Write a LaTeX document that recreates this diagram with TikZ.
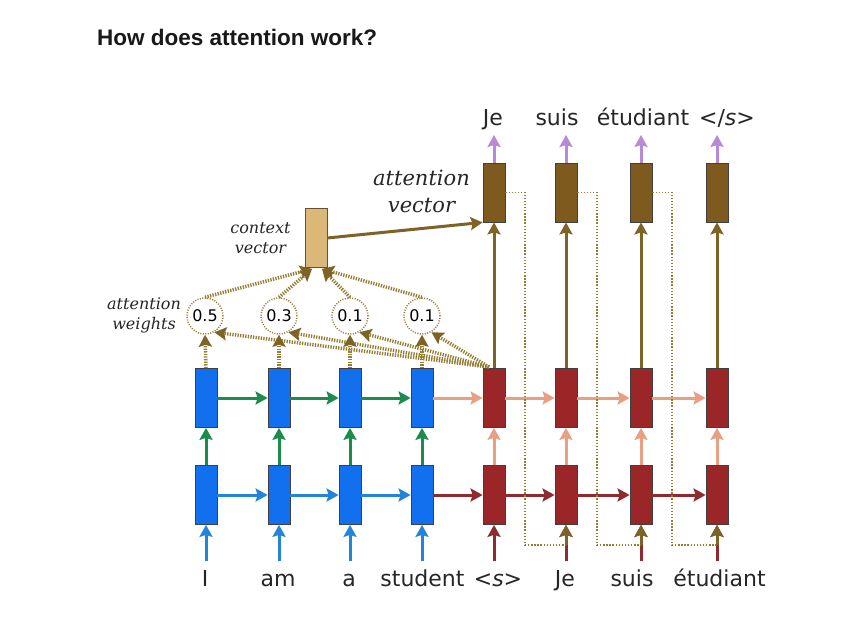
\documentclass[tikz,border=0pt]{standalone}
\usepackage{fontspec}
\setmainfont{DejaVu Sans}
\newfontfamily\titlefont{Liberation Sans}
\newfontfamily\serifit{DejaVu Serif}
\usetikzlibrary{arrows.meta,calc}
\definecolor{boxblue}{HTML}{1270EE}
\definecolor{boxred}{HTML}{9A2628}
\definecolor{boxbrown}{HTML}{7F5A1F}
\definecolor{boxtan}{HTML}{DCB878}
\definecolor{tanedge}{HTML}{6B5030}
\definecolor{arrblue}{HTML}{2384D9}
\definecolor{arrgreen}{HTML}{1C8C4C}
\definecolor{arrred}{HTML}{8E2B2E}
\definecolor{arrsalmon}{HTML}{E8A083}
\definecolor{arrbrown}{HTML}{7D6326}
\definecolor{arrpurple}{HTML}{B78AD8}
\definecolor{dotcol}{HTML}{957D33}
\tikzset{
  cell/.style={rectangle, draw=black!75, line width=0.8pt, minimum width=22pt, minimum height=59pt, inner sep=0pt},
  encbox/.style={cell, fill=boxblue},
  decbox/.style={cell, fill=boxred},
  attbox/.style={cell, fill=boxbrown},
  ctxbox/.style={cell, fill=boxtan, draw=tanedge},
  wcircle/.style={circle, draw=dotcol, line width=1.5pt, dash pattern=on 1pt off 1.5pt, minimum size=36pt, inner sep=0pt, font=\fontsize{16}{18}\selectfont},
  arr/.style={line width=3pt, -{Stealth[length=12pt,width=13pt,inset=2pt]}},
  dotarr/.style={draw=dotcol, line width=3.5pt, dash pattern=on 1.3pt off 1.3pt, -{Stealth[length=12pt,width=13pt,inset=2pt,color=arrbrown]}},
  fb/.style={draw=dotcol, line width=1.6pt, dash pattern=on 1.4pt off 1.7pt},
  lab/.style={font=\fontsize{22}{26}\selectfont, text=black!85, inner sep=0pt},
  itlab/.style={font=\serifit\itshape\fontsize{21}{27}\selectfont, text=black!85, align=center, inner sep=0pt},
  smitlab/.style={font=\serifit\itshape\fontsize{16}{20}\selectfont, text=black!85, align=center, inner sep=0pt},
}
\begin{document}
\begin{tikzpicture}[x=1pt,y=-1pt]
\useasboundingbox[fill=white] (0,0) rectangle (857,631);

% title
\node[anchor=base west, inner sep=0pt, font=\titlefont\bfseries\fontsize{22.5}{26}\selectfont, text=black!90] (title) at (97,46) {How does attention work?};

% encoder
\node[encbox] (e1) at (206,495) {};
\node[encbox] (e2) at (279,495) {};
\node[encbox] (e3) at (350,495) {};
\node[encbox] (e4) at (422,495) {};
\node[encbox] (h1) at (206,398) {};
\node[encbox] (h2) at (279,398) {};
\node[encbox] (h3) at (350,398) {};
\node[encbox] (h4) at (422,398) {};
% decoder
\node[decbox] (d1) at (494,495) {};
\node[decbox] (d2) at (566,495) {};
\node[decbox] (d3) at (641,495) {};
\node[decbox] (d4) at (717,495) {};
\node[decbox] (t1) at (494,398) {};
\node[decbox] (t2) at (566,398) {};
\node[decbox] (t3) at (641,398) {};
\node[decbox] (t4) at (717,398) {};
% attention vectors
\node[attbox] (a1) at (494,192.5) {};
\node[attbox] (a2) at (566,192.5) {};
\node[attbox] (a3) at (641,192.5) {};
\node[attbox] (a4) at (717,192.5) {};
% context vector
\node[ctxbox] (c) at (316,238) {};
% weights
\node[wcircle] (w1) at (205,316) {0.5};
\node[wcircle] (w2) at (279,316) {0.3};
\node[wcircle] (w3) at (350,316) {0.1};
\node[wcircle] (w4) at (422,316) {0.1};

% text labels
\node[itlab] (attlab) at (421.5,191) {attention\\vector};
\node[smitlab] (ctxlab) at (260.5,238) {context\\vector};
\node[smitlab] (wlab) at (144,315) {attention\\weights};

% input labels
\node[lab, anchor=base] (lI) at (205,586) {I};
\node[lab, anchor=base] (lam) at (278,586) {am};
\node[lab, anchor=base] (la) at (349,586) {a};
\node[lab, anchor=base] (lst) at (422.5,586) {student};
\node[lab, anchor=base] (ls) at (498,586) {<{\itshape s}>};
\node[lab, anchor=base] (lJe) at (565,586) {Je};
\node[lab, anchor=base] (lsuis) at (632,586) {suis};
\node[lab, anchor=base] (let) at (719.5,586) {étudiant};
% output labels
\node[lab, anchor=base] (oJe) at (493,126) {Je};
\node[lab, anchor=base] (osuis) at (557,126) {suis};
\node[lab, anchor=base] (oet) at (643,126) {étudiant};
\node[lab, anchor=base] (oend) at (727,126) {</{\itshape s}>};

% input arrow starts
\coordinate (i1) at (206,561);
\coordinate (i2) at (279,561);
\coordinate (i3) at (350,561);
\coordinate (i4) at (422,561);
\coordinate (j1) at (494,561);
\coordinate (j2) at (566,561);
\coordinate (j3) at (641,561);
\coordinate (j4) at (717,561);
% output arrow tips
\coordinate (o1) at (494,135);
\coordinate (o2) at (566,135);
\coordinate (o3) at (641,135);
\coordinate (o4) at (717,135);

% encoder arrows
\foreach \n in {1,2,3,4} {
  \draw[arr, arrblue] (i\n) -- (e\n.south);
  \draw[arr, arrgreen] (e\n.north) -- (h\n.south);
}
\draw[arr, arrblue] (e1.east) -- (e2.west);
\draw[arr, arrblue] (e2.east) -- (e3.west);
\draw[arr, arrblue] (e3.east) -- (e4.west);
\draw[arr, arrgreen] (h1.east) -- (h2.west);
\draw[arr, arrgreen] (h2.east) -- (h3.west);
\draw[arr, arrgreen] (h3.east) -- (h4.west);
% decoder arrows
\draw[arr, arrred] (e4.east) -- (d1.west);
\draw[arr, arrred] (d1.east) -- (d2.west);
\draw[arr, arrred] (d2.east) -- (d3.west);
\draw[arr, arrred] (d3.east) -- (d4.west);
\draw[arr, arrsalmon] (h4.east) -- (t1.west);
\draw[arr, arrsalmon] (t1.east) -- (t2.west);
\draw[arr, arrsalmon] (t2.east) -- (t3.west);
\draw[arr, arrsalmon] (t3.east) -- (t4.west);
\foreach \n in {1,2,3,4} {
  \draw[arr, arrred] (j\n) -- (d\n.south);
  \draw[arr, arrsalmon] (d\n.north) -- (t\n.south);
  \draw[arr, arrbrown] (t\n.north) -- (a\n.south);
  \draw[arr, arrpurple] (a\n.north) -- (o\n);
}

% feedback (input feeding)
\coordinate (k1) at (525,545);
\coordinate (k2) at (597,545);
\coordinate (k3) at (672,545);
\coordinate (f2) at (566,545);
\coordinate (f3) at (641,545);
\coordinate (f4) at (717,545);
\draw[fb] (a1.east) -| (k1) -- (f2);
\draw[fb] (a2.east) -| (k2) -- (f3);
\draw[fb] (a3.east) -| (k3) -- (f4);
\draw[arr, arrbrown] (f2) -- (d2.south);
\draw[arr, arrbrown] (f3) -- (d3.south);
\draw[arr, arrbrown] (f4) -- (d4.south);

% attention scoring
\coordinate (q) at (489,367);
\foreach \n in {1,2,3,4} {
  \draw[dotarr] (h\n.north) -- (w\n.south);
  \draw[dotarr] (q) -- (w\n.-60);
}
\draw[dotarr] (w1.north) -- ($(c.south)+(-4,1)$);
\draw[dotarr] (w2.north) -- ($(c.south)+(-4,1)$);
\draw[dotarr] (w3.north) -- ($(c.south)+(6,1)$);
\draw[dotarr] (w4.north) -- ($(c.south)+(6,1)$);

% context to attention vector
\draw[arr, arrbrown] (c.east) -- (a1.south west);
\end{tikzpicture}
\end{document}
